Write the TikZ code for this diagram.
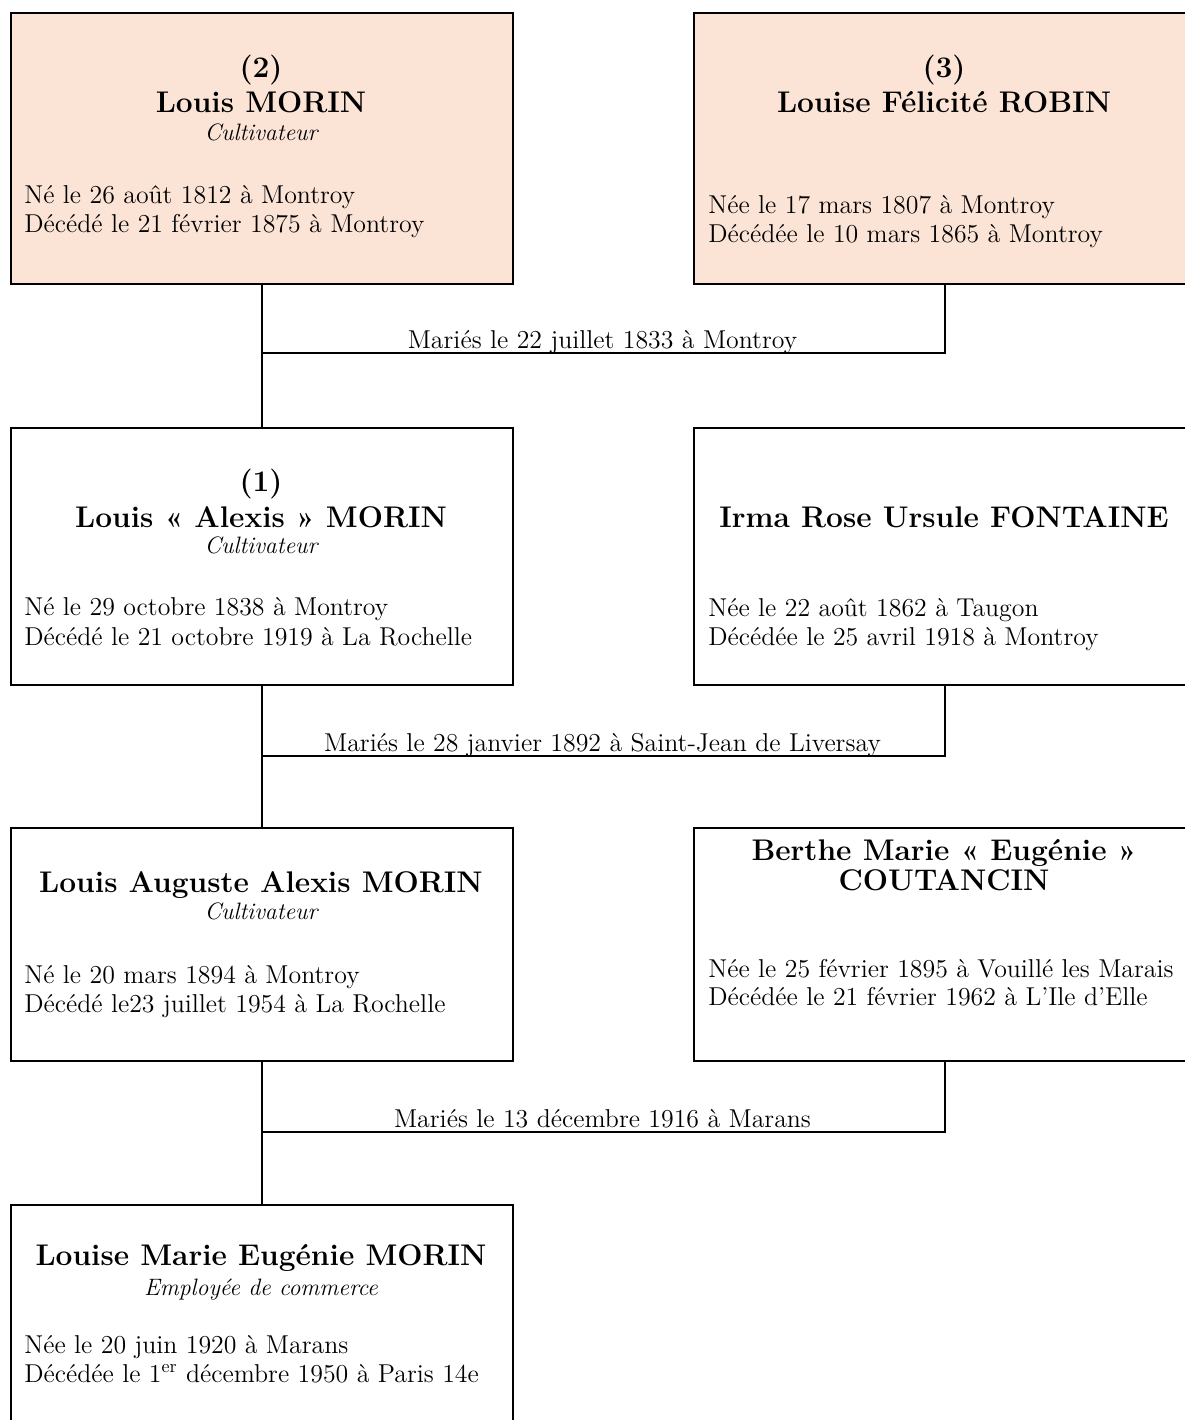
\documentclass[tikz,border=0pt]{standalone}
\usepackage{fontspec}
\usetikzlibrary{positioning}
\definecolor{ancestor}{HTML}{FBE3D6}
\tikzset{
  personbox/.style={draw, line width=1.3pt, minimum width=10.04cm, anchor=north west, inner sep=0pt},
  heading/.style={font=\fontsize{17}{20}\selectfont\bfseries, anchor=base, inner sep=0pt},
  job/.style={font=\fontsize{13.5}{16}\selectfont\itshape, anchor=base, inner sep=0pt},
  dates/.style={font=\fontsize{14.7}{17}\selectfont, anchor=base west, inner sep=0pt},
  wedding/.style={font=\fontsize{14.7}{17}\selectfont, anchor=base, inner sep=0pt},
  link/.style={line width=1.3pt},
}
\begin{document}
\begin{tikzpicture}[x=0.02cm, y=-0.02cm]
  \useasboundingbox (0,0) rectangle (1184,1420);
  % Person boxes
  \foreach \id/\x/\y/\h/\col in {
    louis/10/12/271/ancestor,
    louise/693/12/271/ancestor,
    alexis/10/427/257/white,
    irma/693/427/257/white,
    auguste/10/827/233/white,
    berthe/693/827/233/white,
    eugenie/10/1204/260/white}{
    \node[personbox, fill=\col, minimum height=\h*0.02cm] (\id) at (\x,\y) {};
  }
  % Names
  \foreach \id/\x/\y/\txt in {
    louisnum/261/77/(2),
    louisname/261/112/Louis MORIN,
    louisenum/944/77/(3),
    louisename/944/112/Louise Félicité ROBIN,
    alexisnum/261/491/(1),
    alexisname/261/527/Louis « Alexis » MORIN,
    irmaname/944/527/Irma Rose Ursule FONTAINE,
    augustename/261/892/Louis Auguste Alexis MORIN,
    berthename/944/860/Berthe Marie « Eugénie »,
    berthesurname/944/890/COUTANCIN,
    eugeniename/261/1265/Louise Marie Eugénie MORIN}{
    \node[heading] (\id) at (\x,\y) {\txt};
  }
  % Occupations
  \foreach \id/\y/\txt in {
    louisjob/140/Cultivateur,
    alexisjob/553/Cultivateur,
    augustejob/919/Cultivateur,
    eugeniejob/1295/Employée de commerce}{
    \node[job] (\id) at (261,\y) {\txt};
  }
  % Birth and death
  \foreach \id/\x/\y/\txt in {
    louisborn/24/203/Né le 26 août 1812 à Montroy,
    louisdied/24/232/Décédé le 21 février 1875 à Montroy,
    louiseborn/708/213/Née le 17 mars 1807 à Montroy,
    louisedied/708/242/Décédée le 10 mars 1865 à Montroy,
    alexisborn/24/615/Né le 29 octobre 1838 à Montroy,
    alexisdied/24/645/Décédé le 21 octobre 1919 à La Rochelle,
    irmaborn/708/616/Née le 22 août 1862 à Taugon,
    irmadied/708/645/Décédée le 25 avril 1918 à Montroy,
    augusteborn/24/983/Né le 20 mars 1894 à Montroy,
    augustedied/24/1012/Décédé le23 juillet 1954 à La Rochelle,
    bertheborn/708/977/Née le 25 février 1895 à Vouillé les Marais,
    berthedied/708/1005/Décédée le 21 février 1962 à L’Ile d’Elle,
    eugenieborn/24/1353/Née le 20 juin 1920 à Marans,
    eugeniedied/24/1382/Décédée le 1\textsuperscript{er} décembre 1950 à Paris 14e}{
    \node[dates] (\id) at (\x,\y) {\txt};
  }
  % Marriages
  \foreach \id/\y/\txt in {
    wed1/353/Mariés le 22 juillet 1833 à Montroy,
    wed2/756/Mariés le 28 janvier 1892 à Saint-Jean de Liversay,
    wed3/1132/Mariés le 13 décembre 1916 à Marans}{
    \coordinate (\id) at (261,\y);
    \node[wedding] (\id lbl) at (602.5,\y-5) {\txt};
  }
  % Links
  \draw[link] (louis) -- (alexis);
  \draw[link] (louise.south) |- (wed1);
  \draw[link] (alexis) -- (auguste);
  \draw[link] (irma.south) |- (wed2);
  \draw[link] (auguste) -- (eugenie);
  \draw[link] (berthe.south) |- (wed3);
\end{tikzpicture}
\end{document}
